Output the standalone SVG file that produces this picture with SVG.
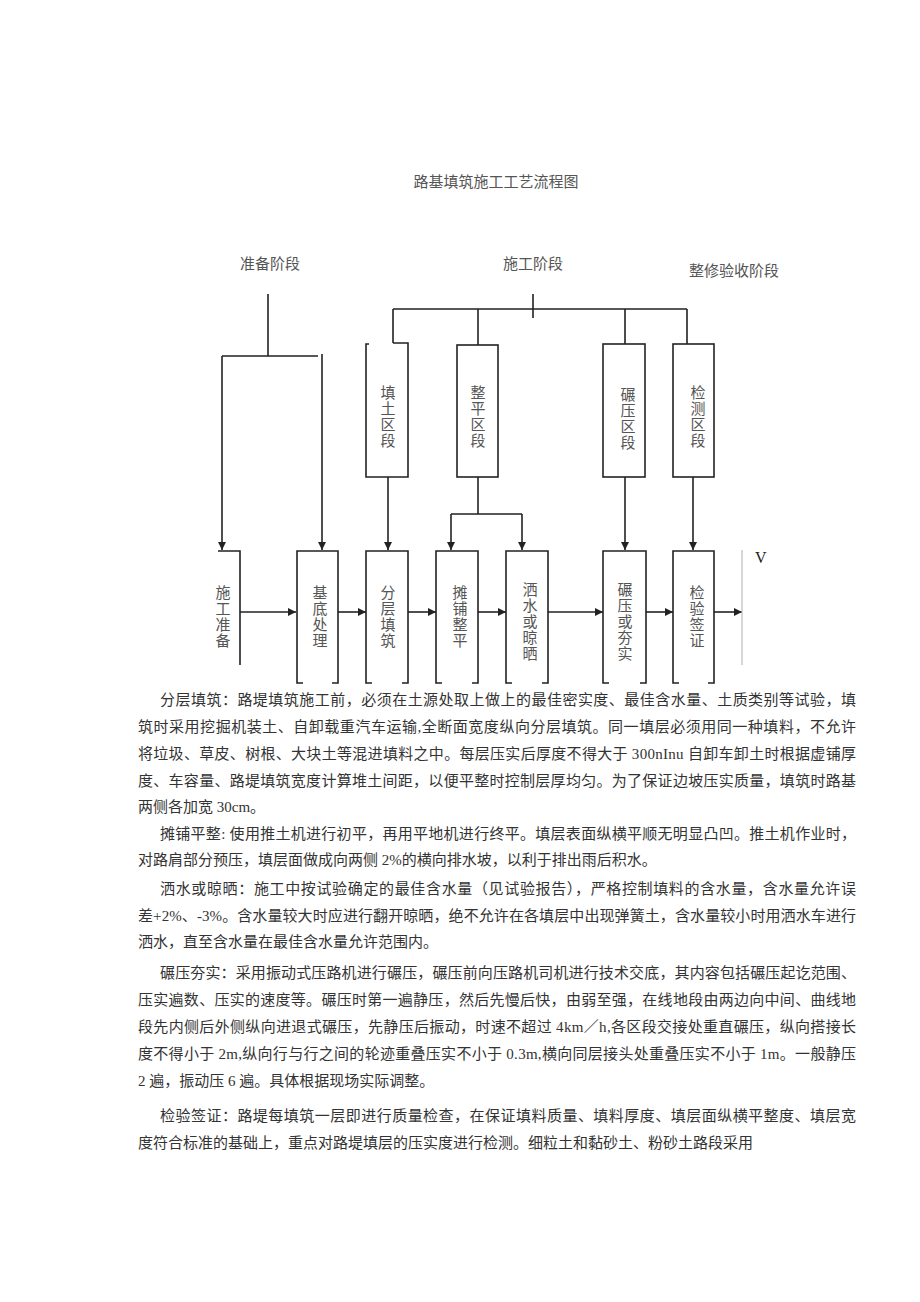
<svg xmlns="http://www.w3.org/2000/svg" width="920" height="1302" viewBox="0 0 920 1302">
<style>
.ln{fill:none;stroke:#222;stroke-width:1.6}
.bx{fill:none;stroke:#222;stroke-width:1.6}
.lb{font-family:"Liberation Serif","Noto Sans CJK SC",serif;font-size:15px;fill:#555;text-anchor:middle}
.vt{font-family:"Noto Sans CJK SC",sans-serif;font-size:15px;fill:#555;writing-mode:vertical-rl;letter-spacing:1px}
.p{font-family:"Liberation Serif","Noto Sans CJK SC",serif;font-size:15px;fill:#333}
</style>
<defs>
<marker id="ah" viewBox="0 0 10 10" refX="10" refY="5" markerWidth="9" markerHeight="8" markerUnits="userSpaceOnUse" orient="auto">
<path d="M0,0 L10,5 L0,10 Z" fill="#222"/>
</marker>
</defs>
<rect width="920" height="1302" fill="#fff"/>

<text class="lb" x="496" y="187">路基填筑施工工艺流程图</text>
<g id="phase-labels">
<text class="lb" x="270" y="269">准备阶段</text>
<text class="lb" x="533" y="269">施工阶段</text>
<text class="lb" x="734" y="276">整修验收阶段</text>
</g>

<g id="connectors">
<path class="ln" d="M268,294 V356 M222,356 H318"/>
<path class="ln" d="M222,356 V550" marker-end="url(#ah)"/>
<path class="ln" d="M322,354 V550" marker-end="url(#ah)"/>
<path class="ln" d="M533,294 V318 M393,309 H687 M393,309 V343 M478,309 V345 M625,309 V344 M687,309 V344"/>
<path class="ln" d="M388,477 V550" marker-end="url(#ah)"/>
<path class="ln" d="M478,477 V514 M451,514 H522"/>
<path class="ln" d="M451,514 V550" marker-end="url(#ah)"/>
<path class="ln" d="M522,514 V550" marker-end="url(#ah)"/>
<path class="ln" d="M625,477 V550" marker-end="url(#ah)"/>
<path class="ln" d="M693,477 V550" marker-end="url(#ah)"/>
<path class="ln" d="M240,612 H296" marker-end="url(#ah)"/>
<path class="ln" d="M338,612 H366" marker-end="url(#ah)"/>
<path class="ln" d="M408,612 H436" marker-end="url(#ah)"/>
<path class="ln" d="M478,612 H506" marker-end="url(#ah)"/>
<path class="ln" d="M548,612 H603" marker-end="url(#ah)"/>
<path class="ln" d="M646,612 H673" marker-end="url(#ah)"/>
<path class="ln" d="M714,612 H742" marker-end="url(#ah)"/>
<path d="M742,550 V665" stroke="#bbb" stroke-width="1.2" fill="none"/>
</g>

<g id="n-tiantu">
<path class="bx" d="M369,344 H366 V477 H408 V343 H393"/>
<text class="vt" x="388" y="385">填土区段</text>
</g>
<g id="n-zhengping">
<rect class="bx" x="457" y="345" width="41" height="132"/>
<text class="vt" x="478" y="385">整平区段</text>
</g>
<g id="n-nianya">
<rect class="bx" x="603" y="344" width="42" height="133"/>
<text class="vt" x="628" y="387">碾压区段</text>
</g>
<g id="n-jiance">
<rect class="bx" x="673" y="344" width="41" height="133"/>
<text class="vt" x="698" y="385">检测区段</text>
</g>

<g id="n-shigongzhunbei">
<path class="bx" d="M218,551 H240 V665"/>
<text class="vt" x="223" y="585">施工准备</text>
</g>
<g id="n-jidi">
<path class="bx" d="M303,683 H297 V551 H338 V683 H332"/>
<text class="vt" x="320" y="585">基底处理</text>
</g>
<g id="n-fenceng">
<path class="bx" d="M372,683 H366 V551 H408 V683 H402"/>
<text class="vt" x="388" y="585">分层填筑</text>
</g>
<g id="n-tanpu">
<path class="bx" d="M442,683 H436 V551 H478 V683 H472"/>
<text class="vt" x="460" y="585">摊铺整平</text>
</g>
<g id="n-sashui">
<path class="bx" d="M512,683 H506 V551 H548 V683 H542"/>
<text class="vt" x="530" y="582">洒水或晾晒</text>
</g>
<g id="n-nianyahangshi">
<path class="bx" d="M609,683 H603 V551 H646 V683 H640"/>
<text class="vt" x="625" y="582">碾压或夯实</text>
</g>
<g id="n-jianyan">
<path class="bx" d="M679,683 H673 V551 H714 V683 H708"/>
<text class="vt" x="697" y="585">检验签证</text>
</g>
<text x="755" y="563" style="font-family:'Liberation Serif',serif;font-size:16px;fill:#222">V</text>

<g id="body">
<text class="p" x="160" y="705" textLength="696" lengthAdjust="spacing">分层填筑：路堤填筑施工前，必须在土源处取上做上的最佳密实度、最佳含水量、土质类别等试验，填</text>
<text class="p" x="138" y="732" textLength="718" lengthAdjust="spacing">筑时采用挖掘机装土、自卸载重汽车运输,全断面宽度纵向分层填筑。同一填层必须用同一种填料，不允许</text>
<text class="p" x="138" y="759" textLength="718" lengthAdjust="spacing">将垃圾、草皮、树根、大块土等混进填料之中。每层压实后厚度不得大于 300nInu 自卸车卸土时根据虚铺厚</text>
<text class="p" x="138" y="786" textLength="718" lengthAdjust="spacing">度、车容量、路堤填筑宽度计算堆土间距，以便平整时控制层厚均匀。为了保证边坡压实质量，填筑时路基</text>
<text class="p" x="138" y="812">两侧各加宽 30cm。</text>

<text class="p" x="160" y="839" textLength="696" lengthAdjust="spacing">摊铺平整: 使用推土机进行初平，再用平地机进行终平。填层表面纵横平顺无明显凸凹。推土机作业时，</text>
<text class="p" x="138" y="865">对路肩部分预压，填层面做成向两侧 2%的横向排水坡，以利于排出雨后积水。</text>

<text class="p" x="160" y="894" textLength="696" lengthAdjust="spacing">洒水或晾晒：施工中按试验确定的最佳含水量（见试验报告），严格控制填料的含水量，含水量允许误</text>
<text class="p" x="138" y="921" textLength="718" lengthAdjust="spacing">差+2%、-3%。含水量较大时应进行翻开晾晒，绝不允许在各填层中出现弹簧土，含水量较小时用洒水车进行</text>
<text class="p" x="138" y="947">洒水，直至含水量在最佳含水量允许范围内。</text>

<text class="p" x="160" y="978" textLength="696" lengthAdjust="spacing">碾压夯实：采用振动式压路机进行碾压，碾压前向压路机司机进行技术交底，其内容包括碾压起讫范围、</text>
<text class="p" x="138" y="1005" textLength="718" lengthAdjust="spacing">压实遍数、压实的速度等。碾压时第一遍静压，然后先慢后快，由弱至强，在线地段由两边向中间、曲线地</text>
<text class="p" x="138" y="1032" textLength="718" lengthAdjust="spacing">段先内侧后外侧纵向进退式碾压，先静压后振动，时速不超过 4km／h,各区段交接处重直碾压，纵向搭接长</text>
<text class="p" x="138" y="1059" textLength="718" lengthAdjust="spacing">度不得小于 2m,纵向行与行之间的轮迹重叠压实不小于 0.3m,横向同层接头处重叠压实不小于 1m。一般静压</text>
<text class="p" x="138" y="1086">2 遍，振动压 6 遍。具体根据现场实际调整。</text>

<text class="p" x="160" y="1121" textLength="696" lengthAdjust="spacing">检验签证：路堤每填筑一层即进行质量检查，在保证填料质量、填料厚度、填层面纵横平整度、填层宽</text>
<text class="p" x="138" y="1148">度符合标准的基础上，重点对路堤填层的压实度进行检测。细粒土和黏砂土、粉砂土路段采用</text>
</g>
</svg>
